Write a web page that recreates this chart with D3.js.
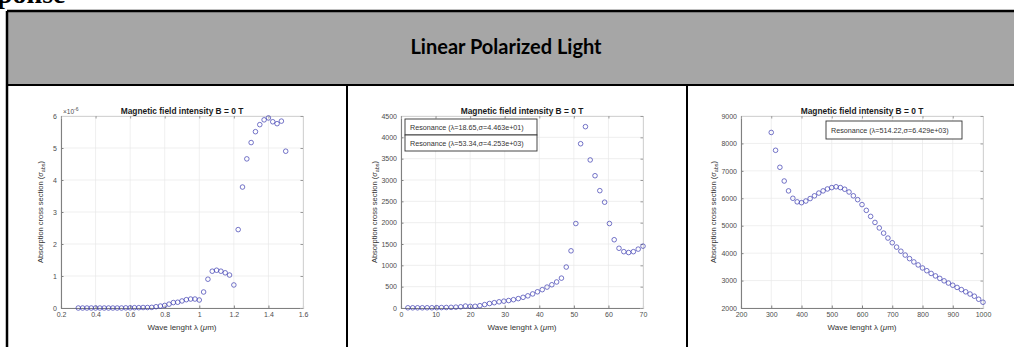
<!DOCTYPE html>
<html lang="en">
<head>
	<meta charset="utf-8">
	<title>Linear Polarized Light</title>
	<script src="https://cdn.jsdelivr.net/npm/d3@7"></script>
	<style>
		body { margin: 0; background: #fff; }
		svg { display: block; }
		.plot text { font-family: "Liberation Sans", Arial, sans-serif; }
	</style>
</head>
<body>
<script>
	// Panel 1: wave length (um) and absorption cross section (x 1e-6)
	var wave1 = [0.3, 0.325, 0.35, 0.375, 0.4, 0.425, 0.45, 0.475, 0.5, 0.525, 0.55, 0.575, 0.6, 0.625, 0.65, 0.675, 0.7, 0.725, 0.75, 0.775,
		0.8, 0.825, 0.85, 0.875, 0.9, 0.925, 0.95, 0.975, 1, 1.025, 1.05, 1.075, 1.1, 1.125, 1.15, 1.175, 1.2, 1.225, 1.25, 1.275,
		1.3, 1.325, 1.35, 1.375, 1.4, 1.425, 1.45, 1.475, 1.5];
	var sigma1 = [0, 0, 0, 0, 0, 0, 0, 0, 0, 0, 0, 0.005, 0.005, 0.01, 0.01, 0.015, 0.015, 0.02, 0.04, 0.06,
		0.08, 0.12, 0.17, 0.18, 0.22, 0.26, 0.28, 0.28, 0.25, 0.5, 0.9, 1.15, 1.18, 1.15, 1.1, 1.03, 0.72, 2.45, 3.78, 4.66,
		5.17, 5.51, 5.73, 5.88, 5.94, 5.82, 5.76, 5.84, 4.9];
	var xTicks1 = [0.2, 0.4, 0.6, 0.8, 1, 1.2, 1.4, 1.6];
	var yTicks1 = [0, 1, 2, 3, 4, 5, 6];

	// Panel 2
	var wave2 = [2, 3.39, 4.78, 6.16, 7.55, 8.94, 10.33, 11.71, 13.1, 14.49, 15.88, 17.27, 18.65, 20.04, 21.43, 22.82, 24.2, 25.59, 26.98, 28.37,
		29.76, 31.14, 32.53, 33.92, 35.31, 36.69, 38.08, 39.47, 40.86, 42.24, 43.63, 45.02, 46.41, 47.8, 49.18, 50.57, 51.96, 53.35, 54.73, 56.12,
		57.51, 58.9, 60.29, 61.67, 63.06, 64.45, 65.84, 67.22, 68.61, 70];
	var sigma2 = [5, 5, 5, 5, 6, 6, 8, 10, 12, 15, 20, 28, 45, 38, 40, 55, 80, 105, 125, 145,
		160, 175, 195, 220, 250, 285, 330, 380, 430, 490, 545, 610, 700, 960, 1340, 1980, 3850, 4250, 3470, 3100,
		2750, 2480, 1980, 1600, 1400, 1320, 1300, 1320, 1380, 1450];
	var xTicks2 = [0, 10, 20, 30, 40, 50, 60, 70];
	var yTicks2 = [0, 500, 1000, 1500, 2000, 2500, 3000, 3500, 4000, 4500];
	var legend2 = ["Resonance (\u03bb=18.65,\u03c3=4.463e+01)", "Resonance (\u03bb=53.34,\u03c3=4.253e+03)"];

	// Panel 3
	var wave3 = [300, 314.29, 328.57, 342.86, 357.14, 371.43, 385.71, 400, 414.29, 428.57, 442.86, 457.14, 471.43, 485.71, 500, 514.29, 528.57,
		542.86, 557.14, 571.43, 585.71, 600, 614.29, 628.57, 642.86, 657.14, 671.43, 685.71, 700, 714.29, 728.57, 742.86, 757.14, 771.43,
		785.71, 800, 814.29, 828.57, 842.86, 857.14, 871.43, 885.71, 900, 914.29, 928.57, 942.86, 957.14, 971.43, 985.71, 1000];
	var sigma3 = [8400, 7750, 7130, 6630, 6270, 6000, 5870, 5840, 5900, 5990, 6090, 6190, 6270, 6340, 6390, 6420, 6390, 6330, 6230, 6090,
		5950, 5770, 5560, 5340, 5120, 4920, 4730, 4550, 4380, 4220, 4070, 3930, 3800, 3680, 3570, 3460, 3360, 3260, 3170, 3080,
		2990, 2910, 2830, 2750, 2670, 2590, 2510, 2430, 2320, 2210];
	var xTicks3 = [200, 300, 400, 500, 600, 700, 800, 900, 1000];
	var yTicks3 = [2000, 3000, 4000, 5000, 6000, 7000, 8000, 9000];
	var legend3 = ["Resonance (\u03bb=514.22,\u03c3=6.429e+03)"];

	var headerText = "Linear Polarized Light";
	var plotTitle = "Magnetic field intensity B = 0 T";

	var w = 1014, h = 347;
	var cellW = 340, tableX = 7, tableY = 11, headerBottom = 85;
	var axL = 54, axR = 296, axTop = 116, axBottom = 308;

	var svg = d3.select("body").append("svg")
		.attr("width", w)
		.attr("height", h);

	// cut-off heading line above the table
	svg.append("text")
		.attr("x", -3)
		.attr("y", 3)
		.attr("font-family", "'Liberation Serif', serif")
		.attr("font-weight", "bold")
		.attr("font-size", 28)
		.attr("fill", "#000")
		.text("ponse");

	// header cell
	svg.append("rect")
		.attr("x", tableX)
		.attr("y", tableY)
		.attr("width", w)
		.attr("height", headerBottom - tableY)
		.attr("fill", "#a6a6a6");

	svg.append("text")
		.attr("x", 506)
		.attr("y", 54)
		.attr("text-anchor", "middle")
		.attr("font-family", "Lato, 'Open Sans', sans-serif")
		.attr("font-weight", "bold")
		.attr("font-size", 20)
		.attr("fill", "#000")
		.text(headerText);

	// table lines
	var lines = [
		[tableX, tableY, w + 5, tableY, 2.5],
		[tableX, tableY, tableX, h + 5, 2.5],
		[tableX, headerBottom, w + 5, headerBottom, 2],
		[tableX + cellW, headerBottom, tableX + cellW, h + 5, 2],
		[tableX + 2 * cellW, headerBottom, tableX + 2 * cellW, h + 5, 2]
	];
	svg.selectAll("line.table")
		.data(lines)
		.enter()
		.append("line")
		.attr("class", "table")
		.attr("x1", function(d) { return d[0]; })
		.attr("y1", function(d) { return d[1]; })
		.attr("x2", function(d) { return d[2]; })
		.attr("y2", function(d) { return d[3]; })
		.attr("stroke", "#000")
		.attr("stroke-width", function(d) { return d[4]; });

	var panels = [
		{ xs: wave1, ys: sigma1, xTicks: xTicks1, yTicks: yTicks1, xDomain: [0.2, 1.6], yDomain: [0, 6], exponent: "-6", legend: [], yLabelX: 36 },
		{ xs: wave2, ys: sigma2, xTicks: xTicks2, yTicks: yTicks2, xDomain: [0, 70], yDomain: [0, 4500], legend: legend2, yLabelX: 30,
			legendBox: { x: 4, y: 119, w: 132, h: 16 } },
		{ xs: wave3, ys: sigma3, xTicks: xTicks3, yTicks: yTicks3, xDomain: [200, 1000], yDomain: [2000, 9000], legend: legend3, yLabelX: 29,
			legendBox: { x: 85, y: 121, w: 136, h: 18 } }
	];

	panels.forEach(function(p, i) {
		var left = tableX + i * cellW;
		var g = svg.append("g").attr("class", "plot");

		var x = d3.scaleLinear().domain(p.xDomain).range([left + axL, left + axR]);
		var y = d3.scaleLinear().domain(p.yDomain).range([axBottom, axTop]);

		// grid
		g.selectAll("line.gx")
			.data(p.xTicks)
			.enter()
			.append("line")
			.attr("x1", function(d) { return x(d); })
			.attr("x2", function(d) { return x(d); })
			.attr("y1", axTop)
			.attr("y2", axBottom)
			.attr("stroke", "#e8e8e8")
			.attr("stroke-width", 0.7);
		g.selectAll("line.gy")
			.data(p.yTicks)
			.enter()
			.append("line")
			.attr("x1", left + axL)
			.attr("x2", left + axR)
			.attr("y1", function(d) { return y(d); })
			.attr("y2", function(d) { return y(d); })
			.attr("stroke", "#e8e8e8")
			.attr("stroke-width", 0.7);

		// axes
		var fmt = function(d) { return String(d); };
		var xAxis = g.append("g")
			.attr("transform", "translate(0," + axBottom + ")")
			.call(d3.axisBottom(x).tickValues(p.xTicks).tickSize(-2.5).tickPadding(4).tickFormat(fmt));
		var yAxis = g.append("g")
			.attr("transform", "translate(" + (left + axL) + ",0)")
			.call(d3.axisLeft(y).tickValues(p.yTicks).tickSize(-2.5).tickPadding(4).tickFormat(fmt));
		var topAxis = g.append("g")
			.attr("transform", "translate(0," + axTop + ")")
			.call(d3.axisTop(x).tickValues(p.xTicks).tickSize(-2.5).tickFormat(""));
		var rightAxis = g.append("g")
			.attr("transform", "translate(" + (left + axR) + ",0)")
			.call(d3.axisRight(y).tickValues(p.yTicks).tickSize(-2.5).tickFormat(""));

		[topAxis, rightAxis].forEach(function(a) {
			a.select(".domain").attr("stroke", "#d4d4d4");
			a.selectAll(".tick line").attr("stroke", "#9a9a9a");
		});
		[xAxis, yAxis].forEach(function(a) {
			a.select(".domain").attr("stroke", "#808080").attr("stroke-width", 1.1);
			a.selectAll(".tick line").attr("stroke", "#808080");
			a.selectAll(".tick text")
				.attr("fill", "#4d4d4d")
				.attr("font-size", 7)
				.attr("font-family", "'Liberation Sans', Arial, sans-serif");
		});

		// scatter markers
		g.selectAll("circle")
			.data(d3.zip(p.xs, p.ys))
			.enter()
			.append("circle")
			.attr("cx", function(d) { return x(d[0]); })
			.attr("cy", function(d) { return y(d[1]); })
			.attr("r", 2.3)
			.attr("fill", "none")
			.attr("stroke", "#3b3bb0")
			.attr("stroke-width", 0.7);

		// title
		g.append("text")
			.attr("x", left + (axL + axR) / 2)
			.attr("y", 114)
			.attr("text-anchor", "middle")
			.attr("font-weight", "bold")
			.attr("font-size", 8.4)
			.attr("fill", "#1a1a1a")
			.text(plotTitle);

		// x label
		var xl = g.append("text")
			.attr("x", left + (axL + axR) / 2)
			.attr("y", 330)
			.attr("text-anchor", "middle")
			.attr("font-size", 8)
			.attr("fill", "#333");
		xl.append("tspan").text("Wave lenght \u03bb (");
		xl.append("tspan").attr("font-style", "italic").text("\u03bc");
		xl.append("tspan").text("m)");

		// y label
		var yl = g.append("text")
			.attr("transform", "translate(" + (left + p.yLabelX) + "," + ((axTop + axBottom) / 2) + ") rotate(-90)")
			.attr("text-anchor", "middle")
			.attr("font-size", 7.5)
			.attr("fill", "#333");
		yl.append("tspan").text("Absorption cross section (");
		yl.append("tspan").attr("font-style", "italic").text("\u03c3");
		yl.append("tspan").attr("font-size", 5.5).attr("dy", 2).text("abs");
		yl.append("tspan").attr("dy", -2).text(")");

		// exponent label
		if (p.exponent) {
			var ex = g.append("text")
				.attr("x", left + axL + 2)
				.attr("y", 114)
				.attr("font-size", 6.5)
				.attr("fill", "#4d4d4d");
			ex.append("tspan").text("\u00d710");
			ex.append("tspan").attr("font-size", 5).attr("dy", -3).text(p.exponent);
		}

		// resonance boxes
		p.legend.forEach(function(t, k) {
			var b = p.legendBox;
			var bx = left + axL + b.x, by = b.y + k * b.h;
			g.append("rect")
				.attr("x", bx)
				.attr("y", by)
				.attr("width", b.w)
				.attr("height", b.h)
				.attr("fill", "#fff")
				.attr("stroke", "#333")
				.attr("stroke-width", 0.9);
			g.append("text")
				.attr("x", bx + 5)
				.attr("y", by + b.h / 2 + 2.5)
				.attr("font-size", 7.2)
				.attr("fill", "#333")
				.text(t);
		});
	});
</script>
</body>
</html>
